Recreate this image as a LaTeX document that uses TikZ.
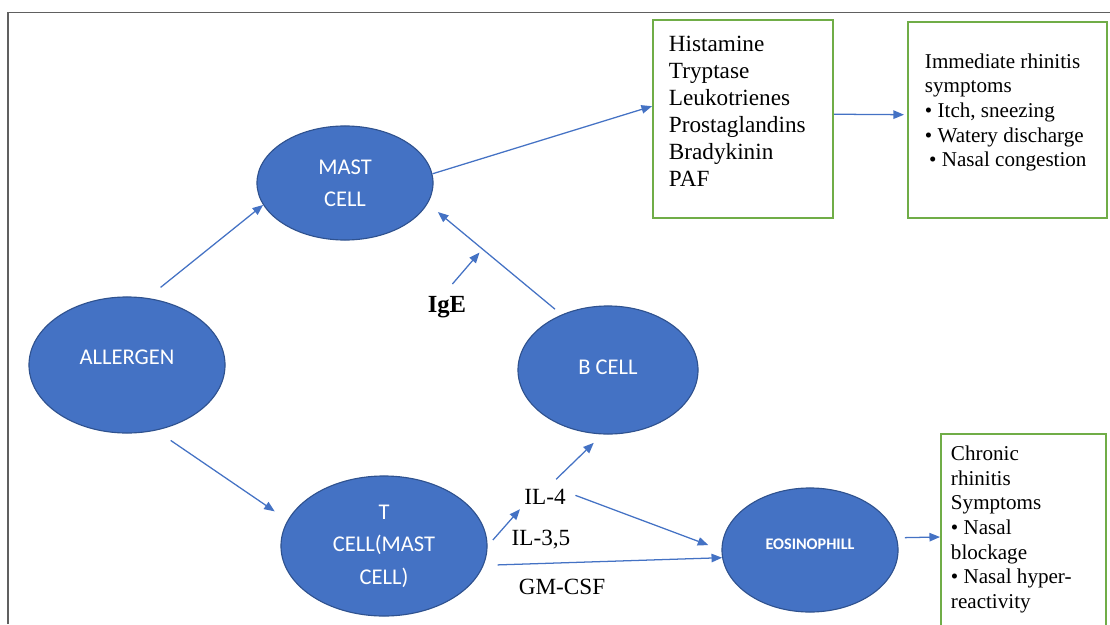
\documentclass[tikz,border=0pt]{standalone}
\usepackage{fontspec}
\setmainfont{Liberation Serif}
\newfontfamily\calibri{Carlito}
\usetikzlibrary{shapes.geometric,arrows.meta}
\definecolor{cellblue}{HTML}{4472C4}
\definecolor{cellrim}{HTML}{2F528F}
\definecolor{boxgreen}{HTML}{70AD47}
\definecolor{framegray}{HTML}{606060}

\begin{document}
\begin{tikzpicture}[x=0.025cm,y=-0.025cm,
    cell/.style={ellipse,draw=cellrim,line width=0.8pt,fill=cellblue,text=white,align=center,inner sep=0pt,font=\calibri\fontsize{16}{23}\selectfont},
    outbox/.style={draw=boxgreen,line width=1.4pt,fill=white},
    flow/.style={draw=cellblue,line width=0.9pt,-{Triangle[length=7.5pt,width=6pt]}},
    cyto/.style={inner sep=2pt,font=\fontsize{16.5}{19}\selectfont}]
    \useasboundingbox (0,0) rectangle (1110,624);
    %% Frame
    \draw[framegray,line width=1.3pt] (8,624) -- (8,12.5) -- (1110,12.5);
    %% Cells
    \node[cell,minimum width=4.9cm,minimum height=3.4cm,text depth=0.4cm] (allergen) at (127,365) {ALLERGEN};
    \node[cell,minimum width=4.4cm,minimum height=2.85cm] (mast) at (345,183) {MAST\\CELL};
    \node[cell,minimum width=4.5cm,minimum height=3.2cm,text depth=0.15cm] (bcell) at (608,370) {B CELL};
    \node[cell,minimum width=5.15cm,minimum height=3.5cm] (tcell) at (384,546) {T\\CELL(MAST\\CELL)};
    \node[cell,minimum width=4.4cm,minimum height=3.1cm,text depth=0.3cm,font=\calibri\bfseries\fontsize{11.5}{13}\selectfont] (eos) at (810,550) {EOSINOPHILL};
    %% Boxes
    \node[outbox,inner sep=0.4cm,font=\fontsize{16.5}{19.2}\selectfont] (mediators) at (743,119)
        {\parbox[c][4.15cm][t]{3.7cm}{\raggedright Histamine\\Tryptase\\Leukotrienes\\Prostaglandins\\Bradykinin\\PAF}};
    \node[outbox,inner xsep=0.425cm,inner ysep=0.79cm,font=\fontsize{15}{17.5}\selectfont] (acute) at (1007.5,120)
        {\parbox[c][3.32cm][t]{4.125cm}{\raggedright Immediate rhinitis\\symptoms\\• Itch, sneezing\\• Watery discharge\\\hspace*{3pt}• Nasal congestion}};
    \node[outbox,inner xsep=0.25cm,inner ysep=0.3cm,font=\fontsize{15}{17.5}\selectfont] (chronic) at (1023.5,537)
        {\parbox[c][4.55cm][t]{3.625cm}{\raggedright Chronic\\rhinitis\\Symptoms\\• Nasal\\blockage\\• Nasal hyper-\\reactivity}};
    %% Labels
    \node[cyto] (il4) at (545,497) {IL-4};
    \node[cyto] (il35) at (541,540) {IL-3,5};
    \node[cyto] (gmcsf) at (562,587) {GM-CSF};
    \node[cyto,font=\bfseries\fontsize{17.5}{20}\selectfont] (ige) at (447,307) {IgE};
    \coordinate (igetip) at (479.5,252.5);
    %% Arrows
    \draw[flow,shorten <=0.42cm] (allergen.73) -- (mast.195);
    \draw[flow,shorten <=0.44cm,shorten >=0.39cm] (allergen.294) -- (tcell.165);
    \draw[flow] (mast.6) -- (mediators.172);
    \draw[flow,shorten >=0.075cm] (mediators.3) -- (acute.177);
    \draw[flow,shorten <=0.21cm,shorten >=0.33cm] (bcell.130) -- (mast.346);
    \draw[flow,shorten <=0.3cm] (ige.100) -- (igetip);
    \draw[flow,shorten <=0.2cm,shorten >=0.05cm] (tcell.0) -- (il4.south west);
    \draw[flow,shorten <=0.25cm,shorten >=0.3cm] (il4.70) -- (bcell.265);
    \draw[flow,shorten <=0.18cm,shorten >=0.35cm] (il4.10) -- (eos.180);
    \draw[flow,shorten <=0.35cm] (tcell.349) -- (eos.185);
    \draw[flow,shorten <=0.2cm] (eos.8) -- (chronic.west);
\end{tikzpicture}
\end{document}
